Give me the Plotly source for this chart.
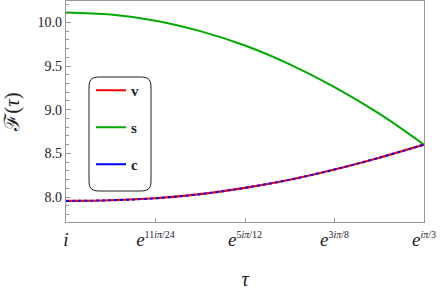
import plotly.graph_objects as go

# angle of tau = e^{i a pi/24}, a from 12 (tau = i) down to 8 (tau = e^{i pi/3})
angle = [12, 11.5, 11, 10.5, 10, 9.5, 9, 8.5, 8]
f_v = [7.955, 7.963, 7.986, 8.033, 8.105, 8.198, 8.315, 8.45, 8.60]
f_s = [10.114, 10.09, 10.02, 9.90, 9.735, 9.52, 9.26, 8.955, 8.60]
f_c = [7.955, 7.963, 7.986, 8.033, 8.105, 8.198, 8.315, 8.45, 8.60]

SUP = "<span style='font-size:10px'>"
x_tickvals = [12, 11, 10, 9, 8]
x_ticktext = ["<i>i</i>",
              f"<i>e</i><sup>{SUP}11<i>iπ</i>/24</span></sup>",
              f"<i>e</i><sup>{SUP}5<i>iπ</i>/12</span></sup>",
              f"<i>e</i><sup>{SUP}3<i>iπ</i>/8</span></sup>",
              f"<i>e</i><sup>{SUP}<i>iπ</i>/3</span></sup>"]
y_tickvals = [8.0, 8.5, 9.0, 9.5, 10.0]

RED = "#ff0000"
GREEN = "#00aa00"
BLUE = "#0000ff"
FRAME = "#999999"
SERIF = "Liberation Serif, Times New Roman, serif"

fig = go.Figure()
fig.add_trace(go.Scatter(x=angle, y=f_s, mode="lines", line=dict(color=GREEN, width=2, shape="spline"),
                         showlegend=False))
fig.add_trace(go.Scatter(x=angle, y=f_v, mode="lines", line=dict(color=RED, width=2.2, shape="spline"),
                         showlegend=False))
fig.add_trace(go.Scatter(x=angle, y=f_c, mode="lines", line=dict(color=BLUE, width=2, dash="dot", shape="spline"),
                         showlegend=False))
# legend entries
for name, col in [("v", RED), ("s", GREEN), ("c", BLUE)]:
    fig.add_trace(go.Scatter(x=[None], y=[None], mode="lines", name=f"<b>{name}</b>",
                             line=dict(color=col, width=2), legendgroup=name))

# rounded legend frame
W, H = 358.0, 221.0
x0, x1 = (89 - 66) / W, (151 - 66) / W
y0, y1 = (221 - 190) / H, (221 - 76) / H
rx, ry = 9 / W, 9 / H
path = (f"M{x0+rx},{y0} L{x1-rx},{y0} Q{x1},{y0} {x1},{y0+ry} L{x1},{y1-ry} Q{x1},{y1} {x1-rx},{y1} "
        f"L{x0+rx},{y1} Q{x0},{y1} {x0},{y1-ry} L{x0},{y0+ry} Q{x0},{y0} {x0+rx},{y0} Z")
fig.add_shape(type="path", xref="paper", yref="paper", path=path,
              line=dict(color="#222222", width=1), fillcolor="rgba(255,255,255,1)", layer="below")

fig.update_layout(
    width=441, height=297,
    margin=dict(l=66, r=17, t=1, b=75),
    plot_bgcolor="white", paper_bgcolor="white",
    font=dict(family=SERIF, color="#222222", size=13),
    showlegend=True,
    legend=dict(x=(91 - 66) / W, y=(221 - 73) / H, xanchor="left", yanchor="top",
                bgcolor="rgba(0,0,0,0)", borderwidth=0, tracegroupgap=14.5,
                itemwidth=30, font=dict(family=SERIF, size=15, color="#222222")),
    xaxis=dict(range=[12, 8], tickvals=x_tickvals, ticktext=x_ticktext, automargin=False,
               showline=True, mirror=True, linecolor=FRAME, linewidth=1.2,
               ticks="inside", ticklen=4, tickcolor=FRAME, showgrid=False, zeroline=False,
               tickfont=dict(family=SERIF, size=19, color="#222222"),
               title=dict(text="<i>τ</i>", font=dict(family=SERIF, size=20), standoff=23)),
    yaxis=dict(range=[7.714, 10.245], tickvals=y_tickvals, tickformat=".1f", automargin=False,
               showline=True, mirror=True, linecolor=FRAME, linewidth=1.2,
               ticks="inside", ticklen=5, tickcolor=FRAME, showgrid=False, zeroline=False,
               minor=dict(dtick=0.1, ticks="inside", ticklen=2.5, tickcolor=FRAME, showgrid=False),
               tickfont=dict(family=SERIF, size=14, color="#222222"),
               title=dict(text="ℱ(<i>τ</i>)", font=dict(family=SERIF, size=21), standoff=12)),
)

fig.write_html("out.html", config={"displayModeBar": False},
               post_script="document.body.style.margin='0';")
